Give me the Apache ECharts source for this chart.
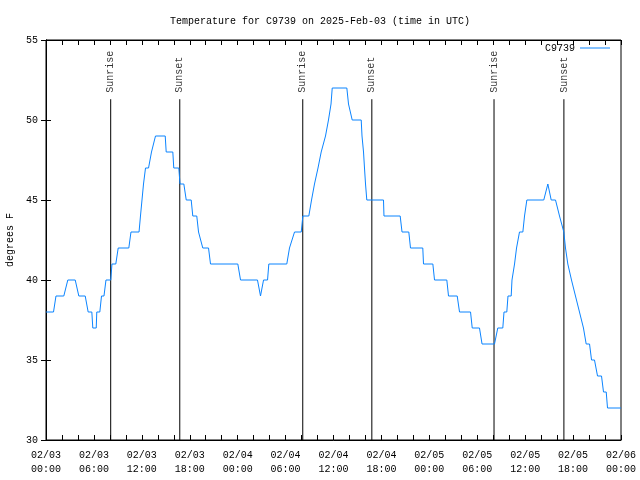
<!DOCTYPE html>
<html>
<head>
<meta charset="utf-8">
<script src="https://cdn.jsdelivr.net/npm/echarts@6/dist/echarts.min.js"></script>
<style>html,body{margin:0;padding:0;background:#fff;}#chart{width:640px;height:480px;}</style>
</head>
<body>
<div id="chart"></div>
<script>
// hours since 2025-02-03 00:00 UTC, temperature in degrees F
var readings = [
  [0,38],[0.94,38],[1.25,39],[2.23,39],[2.73,40],[3.66,40],[4.11,39],[4.91,39],[5.28,38],[5.74,38],
  [5.86,37],[6.29,37],[6.36,38],[6.74,38],[6.95,39],[7.26,39],[7.51,40],[8.11,40],[8.26,41],[8.74,41],
  [9.04,42],[10.37,42],[10.64,43],[11.65,43],[11.83,44],[12.02,45],[12.21,46],[12.46,47],[12.84,47],[13.21,48],
  [13.71,49],[14.93,49],[15.05,48],[15.88,48],[16.00,47],[16.63,47],[16.78,46],[17.26,46],[17.56,45],[18.18,45],
  [18.38,44],[18.88,44],[19.10,43],[19.35,43],[19.63,42],[20.35,42],[20.60,41],[24.02,41],[24.36,40],[26.48,40],
  [26.86,39],[27.05,39],[27.24,40],[27.74,40],[27.90,41],[30.15,41],[30.49,42],[30.74,42],[31.12,43],[31.96,43],
  [32.16,44],[32.91,44],[33.25,45],[33.62,46],[34.06,47],[34.46,48],[34.66,48],[35.00,49],[35.37,50],[35.69,51],
  [35.84,52],[37.67,52],[37.88,51],[38.34,50],[39.47,50],[39.57,49],[39.76,48],[39.88,47],[40.01,46],[40.17,45],
  [42.26,45],[42.32,44],[44.35,44],[44.58,43],[45.43,43],[45.64,42],[47.18,42],[47.27,41],[48.44,41],[48.65,40],
  [50.19,40],[50.40,39],[51.49,39],[51.78,38],[53.16,38],[53.37,37],[54.28,37],[54.60,36],[56.16,36],[56.57,37],
  [57.20,37],[57.35,38],[57.70,38],[57.85,39],[58.25,39],[58.35,40],[58.45,40],[58.67,41],[58.79,41],[58.92,42],
  [59.17,42],[59.29,43],[59.71,43],[59.92,44],[60.21,45],[62.33,45],[62.84,46],[63.26,45],[63.80,45],[64.30,44],
  [64.84,43],[65.05,42],[65.34,41],[65.80,40],[66.30,39],[66.80,38],[67.30,37],[67.64,36],[68.06,36],[68.31,35],
  [68.68,35],[69.06,34],[69.56,34],[69.81,33],[70.15,33],[70.31,32],[72,32]
];
var sunriseHours = [8.1, 32.15, 56.1];
var sunsetHours = [16.75, 40.8, 64.85];
var markerTop = 51.3;       // top of the vertical event lines (degrees F)
var markerLabelBase = 51.7; // where the event labels start (reading upwards)
var xTickLabels = ['02/03\n00:00','02/03\n06:00','02/03\n12:00','02/03\n18:00','02/04\n00:00','02/04\n06:00','02/04\n12:00','02/04\n18:00','02/05\n00:00','02/05\n06:00','02/05\n12:00','02/05\n18:00','02/06\n00:00'];
var yTicks = [30, 35, 40, 45, 50, 55];
var stationName = 'C9739';

var FONT = 'Liberation Mono';
var txt = {fontFamily: FONT, fontSize: 10, color: '#000'};

function eventSeries(hours, name) {
  var out = [];
  hours.forEach(function (h) {
    out.push({
      type: 'line', silent: true, symbol: 'none', animation: false, z: 1,
      lineStyle: {color: '#000', width: 1},
      data: [[h, yTicks[0]], [h, markerTop]]
    });
    out.push({
      type: 'scatter', silent: true, symbolSize: 0, animation: false,
      data: [[h, markerLabelBase]],
      label: {show: true, position: 'inside', rotate: 90, align: 'left', verticalAlign: 'middle',
              formatter: name, fontFamily: FONT, fontSize: 10, color: '#000'}
    });
  });
  return out;
}

var tickStyle = {show: true, inside: true, length: 5, lineStyle: {color: '#000', width: 1}};
var minorStyle = {show: true, splitNumber: 3, length: 5, lineStyle: {color: '#000', width: 1}};

var xBase = {
  type: 'value', min: 0, max: 72, interval: 6,
  axisLine: {show: true, lineStyle: {color: '#000', width: 1}},
  axisTick: tickStyle, minorTick: minorStyle,
  splitLine: {show: false}, minorSplitLine: {show: false}
};

var option = {
  animation: false,
  backgroundColor: '#fff',
  title: {
    text: 'Temperature for ' + stationName + ' on 2025-Feb-03 (time in UTC)',
    left: 'center', top: 11,
    textStyle: {fontFamily: FONT, fontSize: 10, fontWeight: 'normal', color: '#000'}
  },
  legend: {
    data: [{name: stationName, icon: 'rect'}], right: 25, top: 38, align: 'right',
    itemWidth: 30, itemHeight: 1, itemGap: 5,
    textStyle: txt
  },
  grid: {left: 46, right: 19, top: 40, bottom: 40, show: true, borderColor: '#000', borderWidth: 1,
         containLabel: false, outerBoundsMode: 'none'},
  xAxis: [
    Object.assign({}, xBase, {
      position: 'bottom',
      axisLabel: Object.assign({}, txt, {lineHeight: 14, margin: 8,
        formatter: function (v) { return xTickLabels[Math.round(v / 6)]; }})
    }),
    Object.assign({}, xBase, {position: 'top', axisLabel: {show: false}})
  ],
  yAxis: [
    {
      type: 'value', min: yTicks[0], max: yTicks[yTicks.length - 1], interval: 5, position: 'left',
      name: 'degrees F', nameLocation: 'middle', nameGap: 31, nameRotate: 90, nameTextStyle: txt,
      axisLine: {show: true, lineStyle: {color: '#000'}},
      axisTick: tickStyle, splitLine: {show: false},
      axisLabel: Object.assign({}, txt, {margin: 8})
    },
    {
      type: 'value', min: yTicks[0], max: yTicks[yTicks.length - 1], interval: 5, position: 'right',
      axisLine: {show: true, lineStyle: {color: '#000'}},
      axisTick: tickStyle, splitLine: {show: false}, axisLabel: {show: false}
    }
  ],
  series: [
    {
      name: stationName, type: 'line', symbol: 'none', z: 3,
      lineStyle: {color: '#0b84ff', width: 1}, itemStyle: {color: '#0b84ff'},
      data: readings
    }
  ].concat(eventSeries(sunriseHours, 'Sunrise')).concat(eventSeries(sunsetHours, 'Sunset'))
};

var chart = echarts.init(document.getElementById('chart'), null, {renderer: 'canvas'});
chart.setOption(option);
</script>
</body>
</html>
